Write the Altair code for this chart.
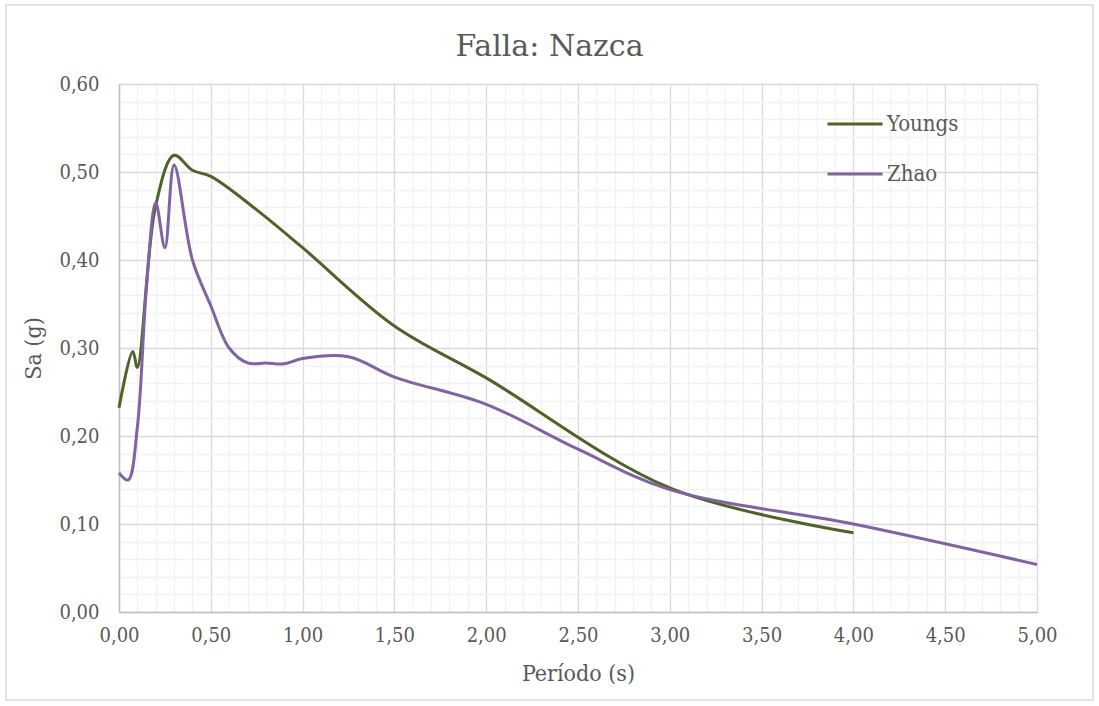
import altair as alt
import pandas as pd

# Spectral acceleration curves, Nazca subduction source
youngs_t = [0.0, 0.075, 0.1, 0.2, 0.3, 0.4, 0.5, 0.75, 1.0, 1.5, 2.0, 3.0, 4.0]
youngs_sa = [0.232, 0.296, 0.278, 0.462, 0.519, 0.502, 0.495, 0.457, 0.414, 0.325, 0.266, 0.141, 0.090]

zhao_t = [0.0, 0.05, 0.1, 0.15, 0.2, 0.25, 0.3, 0.4, 0.5, 0.6, 0.7, 0.8, 0.9, 1.0,
          1.25, 1.5, 2.0, 2.5, 3.0, 4.0, 5.0]
zhao_sa = [0.158, 0.150, 0.21, 0.37, 0.465, 0.414, 0.508, 0.40, 0.348, 0.300, 0.283, 0.283,
           0.282, 0.288, 0.290, 0.267, 0.236, 0.185, 0.139, 0.100, 0.054]

series = ["Youngs", "Zhao"]
colors = ["#4F6228", "#8064A2"]

x_major = [round(i * 0.5, 2) for i in range(11)]
y_major = [round(i * 0.1, 2) for i in range(7)]
x_minor = [round(i * 0.1, 2) for i in range(51) if i % 5 != 0]
y_minor = [round(i * 0.02, 2) for i in range(31) if i % 5 != 0]

df = pd.concat([
    pd.DataFrame({"t": youngs_t, "sa": youngs_sa, "modelo": "Youngs", "k": range(len(youngs_t))}),
    pd.DataFrame({"t": zhao_t, "sa": zhao_sa, "modelo": "Zhao", "k": range(len(zhao_t))}),
])

FONT = "DejaVu Serif"
FONT_C = "DejaVu Serif Condensed"
TXT = "#595959"
W, H = 918, 528

x_scale = alt.Scale(domain=[0, 5], nice=False, zero=True)
y_scale = alt.Scale(domain=[0, 0.6], nice=False, zero=True)

comma = "replace(format(datum.value, '.2f'), '.', ',')"

# minor grid layer
minor = alt.Chart(df).mark_point(opacity=0).encode(
    x=alt.X("t:Q", scale=x_scale, axis=alt.Axis(
        orient="top", values=x_minor, grid=True, gridColor="#F2F2F2", gridWidth=1.3,
        labels=False, ticks=False, domain=False, title=None)),
    y=alt.Y("sa:Q", scale=y_scale, axis=alt.Axis(
        orient="right", values=y_minor, grid=True, gridColor="#F2F2F2", gridWidth=1.3,
        labels=False, ticks=False, domain=False, title=None)),
)

lines = alt.Chart(df).mark_line(interpolate="catmull-rom", strokeWidth=3).encode(
    x=alt.X("t:Q", scale=x_scale, axis=alt.Axis(
        orient="bottom", values=x_major, labelExpr=comma, grid=True, gridColor="#D9D9D9",
        gridWidth=1.3, domainColor="#BFBFBF", domainWidth=1.5, ticks=False,
        labelFlush=False, labelOverlap=False,
        labelPadding=13, labelFont=FONT_C, labelFontSize=20, labelColor=TXT,
        title="Período (s)", titleFont=FONT_C, titleFontSize=23, titleFontWeight="normal",
        titleColor=TXT, titlePadding=17)),
    y=alt.Y("sa:Q", scale=y_scale, axis=alt.Axis(
        orient="left", values=y_major, labelExpr=comma, grid=True, gridColor="#D9D9D9",
        gridWidth=1.3, domainColor="#BFBFBF", domainWidth=1.5, ticks=False,
        labelFlush=False, labelOverlap=False,
        labelPadding=20, labelFont=FONT_C, labelFontSize=20, labelColor=TXT,
        title="Sa (g)", titleFont=FONT_C, titleFontSize=23, titleFontWeight="normal",
        titleColor=TXT, titlePadding=13)),
    color=alt.Color("modelo:N", scale=alt.Scale(domain=series, range=colors),
                    legend=alt.Legend(
                        title=None, orient="none", legendX=707, legendY=11,
                        symbolType="stroke", symbolSize=3025, symbolStrokeWidth=3,
                        labelFont=FONT_C, labelFontSize=22, labelColor=TXT,
                        labelOffset=3, rowPadding=10, padding=0)),
    order="k:Q",
)

# chart title, centred on the full canvas
title = alt.Chart(pd.DataFrame({"txt": ["Falla: Nazca"]})).mark_text(
    font=FONT, fontSize=30, color=TXT, align="center", baseline="middle"
).encode(x=alt.value(1099 / 2 - 119), y=alt.value(-37), text="txt:N")

# outer chart frame
frame = alt.Chart(pd.DataFrame({"a": [0]})).mark_rect(
    fill=None, stroke="#D9D9D9", strokeWidth=1.5
).encode(
    x=alt.value(-113), x2=alt.value(974), y=alt.value(-79), y2=alt.value(616)
)

chart = alt.layer(minor, lines, title, frame).resolve_axis(
    x="independent", y="independent"
).properties(
    width=W, height=H,
    autosize=alt.AutoSizeParams(type="none"),
    padding={"left": 119, "top": 84, "right": 1099 - 119 - W, "bottom": 706 - 84 - H},
    background="white",
).configure_view(stroke=None)

chart.save("out.html", embed_options={"renderer": "svg", "actions": False})
